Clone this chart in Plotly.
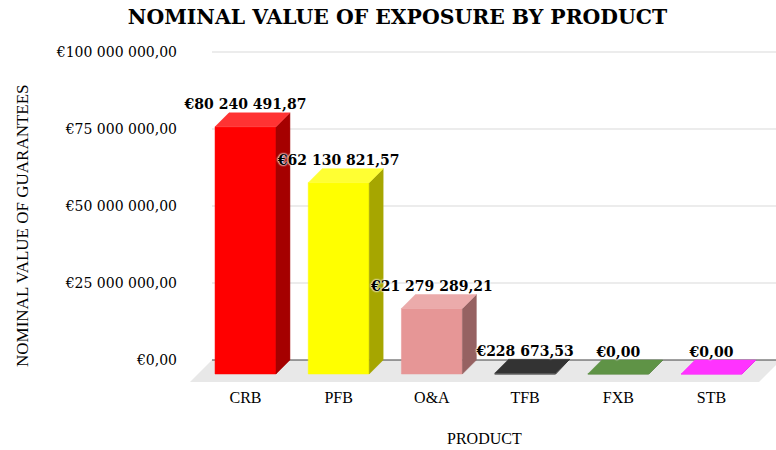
import plotly.graph_objects as go

# ---------------- data ----------------
categories = ["CRB", "PFB", "O&A", "TFB", "FXB", "STB"]
values = [80240491.87, 62130821.57, 21279289.21, 228673.53, 0.00, 0.00]
tick_values = [0, 25_000_000, 50_000_000, 75_000_000, 100_000_000]
tick_labels = ["€0,00", "€25 000 000,00", "€50 000 000,00", "€75 000 000,00", "€100 000 000,00"]

# ---------------- styles ----------------
front_colors = ["#FF0000", "#FFFF00", "#E69696", "#000000", "#4E7F36", "#FF00FF"]
side_colors = ["#A50000", "#A6A600", "#966262", "#000000", "#33531F", "#A600A6"]
top_colors = ["#FF3333", "#FFFF33", "#EBABAB", "#333333", "#5F9346", "#FF33FF"]

X_RANGE = [-0.617, 5.692]
Y_RANGE = [-7.79e6, 103.9e6]
BAR_W = 0.654          # front-face width (category units)
DEPTH_X = 0.150        # oblique depth, x
DEPTH_Y = 4.545e6      # oblique depth, y (value units)
FLOOR_LEFT = -0.5955
FLOOR_RIGHT = 5.51
FLOOR_DX = 0.236
FLOOR_DY = 7.14e6

SERIF = "Liberation Serif, Times New Roman, serif"
GEORGIA = "Georgia, DejaVu Serif, serif"


def fmt_eur(v):
    s = f"{v:,.2f}"
    s = s.replace(",", " ").replace(".", ",")
    return "€" + s


fig = go.Figure()

# floor
fig.add_trace(go.Scatter(
    x=[FLOOR_LEFT, FLOOR_RIGHT, FLOOR_RIGHT + FLOOR_DX, FLOOR_LEFT + FLOOR_DX, FLOOR_LEFT],
    y=[-FLOOR_DY, -FLOOR_DY, 0, 0, -FLOOR_DY],
    fill="toself", fillcolor="#E8E8E8", mode="lines", line=dict(width=0),
    hoverinfo="skip"))

# gridlines on back wall
for tv in tick_values:
    fig.add_trace(go.Scatter(
        x=[FLOOR_LEFT + FLOOR_DX, X_RANGE[1]], y=[tv, tv], mode="lines",
        line=dict(color="#404040" if tv == 0 else "#D9D9D9", width=1),
        hoverinfo="skip"))

# 3D bars
for i, v in enumerate(values):
    l = i - BAR_W / 2
    r = i + BAR_W / 2
    # front face
    fig.add_trace(go.Scatter(
        x=[l, r, r, l, l], y=[-DEPTH_Y, -DEPTH_Y, v - DEPTH_Y, v - DEPTH_Y, -DEPTH_Y],
        fill="toself", fillcolor=front_colors[i], mode="lines",
        line=dict(width=0.5, color=front_colors[i]), hoverinfo="skip"))
    # side face
    fig.add_trace(go.Scatter(
        x=[r, r + DEPTH_X, r + DEPTH_X, r, r], y=[-DEPTH_Y, 0, v, v - DEPTH_Y, -DEPTH_Y],
        fill="toself", fillcolor=side_colors[i], mode="lines",
        line=dict(width=0.5, color=side_colors[i]), hoverinfo="skip"))
    # top face
    fig.add_trace(go.Scatter(
        x=[l, r, r + DEPTH_X, l + DEPTH_X, l], y=[v - DEPTH_Y, v - DEPTH_Y, v, v, v - DEPTH_Y],
        fill="toself", fillcolor=top_colors[i], mode="lines",
        line=dict(width=0.5, color=top_colors[i]), hoverinfo="skip"))

# data labels
fig.add_trace(go.Scatter(
    x=list(range(len(categories))), y=values, mode="text",
    text=[fmt_eur(v) for v in values], textposition="top center",
    textfont=dict(family=GEORGIA, size=14, color="black", weight="bold",
                  shadow="0 0 2px white, 0 0 2px white, 0 0 2px white"),
    cliponaxis=False, hoverinfo="skip"))

fig.update_layout(
    width=776, height=450,
    margin=dict(l=188, r=0, t=40, b=66),
    paper_bgcolor="white", plot_bgcolor="white",
    showlegend=False,
    title=dict(text="<b>NOMINAL VALUE OF EXPOSURE BY PRODUCT</b>",
               x=397.5 / 776, xref="container", xanchor="center",
               y=1 - 17 / 450, yref="container", yanchor="middle",
               font=dict(family=GEORGIA, size=20.4, color="black")),
    xaxis=dict(range=X_RANGE, tickvals=list(range(len(categories))), ticktext=categories,
               showgrid=False, zeroline=False, showline=False, ticks="",
               ticklabelstandoff=2,
               tickfont=dict(family=SERIF, size=16, color="black"), fixedrange=True),
    yaxis=dict(range=Y_RANGE, tickvals=tick_values, ticktext=tick_labels,
               showgrid=False, zeroline=False, showline=False, ticks="",
               ticklabelstandoff=10,
               tickfont=dict(family=GEORGIA, size=14, color="black"), fixedrange=True),
    annotations=[
        dict(text="NOMINAL VALUE OF GUARANTEES", textangle=-90,
             x=(22 - 188) / 588, y=(384 - 226) / 344, xref="paper", yref="paper",
             xanchor="center", yanchor="middle", showarrow=False,
             font=dict(family=SERIF, size=17, color="black")),
        dict(text="PRODUCT", x=(485 - 188) / 588, y=(384 - 438) / 344,
             xref="paper", yref="paper", xanchor="center", yanchor="middle",
             showarrow=False, font=dict(family=SERIF, size=16, color="black")),
    ],
)

fig.write_html("out.html", config={"displayModeBar": False},
               post_script="document.body.style.margin='0px';document.body.style.overflow='hidden';")
